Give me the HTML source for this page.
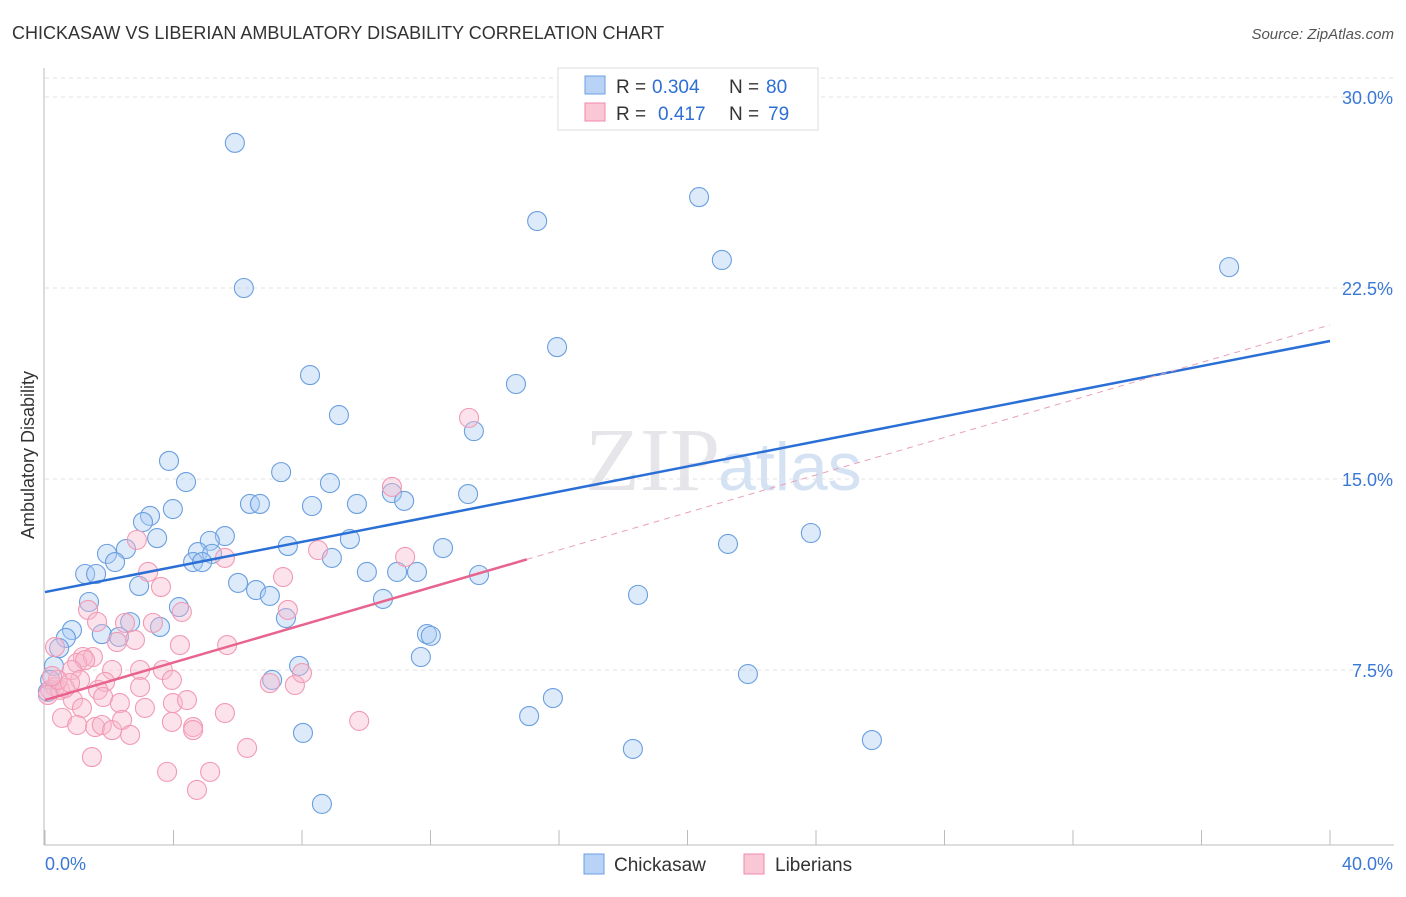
<!DOCTYPE html>
<html><head><meta charset="utf-8"><style>
body{margin:0;background:#fff;font-family:"Liberation Sans",sans-serif;}
</style></head><body>
<svg width="1406" height="892" viewBox="0 0 1406 892" xmlns="http://www.w3.org/2000/svg">
<text x="12" y="39" font-size="18" fill="#333">CHICKASAW VS LIBERIAN AMBULATORY DISABILITY CORRELATION CHART</text>
<text x="1394" y="39" font-size="15" fill="#555" font-style="italic" text-anchor="end">Source: ZipAtlas.com</text>
<text x="720" y="490" font-size="90" fill="#e6e6ea" text-anchor="end" font-family="Liberation Serif">ZIP</text>
<text x="718" y="490" font-size="68" fill="#d4e2f4">atlas</text>
<g id="grid"></g>
<g id="axes"></g>
<g id="pts"></g>
<g id="lines"></g>
<text transform="translate(34,455) rotate(-90)" font-size="18" fill="#333" text-anchor="middle">Ambulatory Disability</text>
<g>
<rect x="558" y="68" width="260" height="62" fill="#fff" stroke="#ddd"/>
<rect x="585" y="76" width="20" height="18" fill="#b8d3f5" stroke="#6a9fe0"/>
<rect x="585" y="103" width="20" height="18" fill="#fac7d6" stroke="#f08aa8"/>
<text x="616" y="93" font-size="19" fill="#333">R =</text>
<text x="652" y="93" font-size="19" fill="#2e6fd6">0.304</text>
<text x="729" y="93" font-size="19" fill="#333">N =</text>
<text x="766" y="93" font-size="19" fill="#2e6fd6">80</text>
<text x="616" y="120" font-size="19" fill="#333">R =</text>
<text x="658" y="120" font-size="19" fill="#2e6fd6">0.417</text>
<text x="729" y="120" font-size="19" fill="#333">N =</text>
<text x="768" y="120" font-size="19" fill="#2e6fd6">79</text>
</g>
<g>
<rect x="584" y="854" width="20" height="20" fill="#b8d3f5" stroke="#6a9fe0"/>
<text x="614" y="871" font-size="19" fill="#333">Chickasaw</text>
<rect x="744" y="854" width="20" height="20" fill="#fac7d6" stroke="#f08aa8"/>
<text x="775" y="871" font-size="19" fill="#333">Liberians</text>
</g>
</svg>
<script>
const yTicks=[7.5,15,22.5,30];
const yTickLabels=["7.5%","15.0%","22.5%","30.0%"];
const xTicks=[0,4,8,12,16,20,24,28,32,36,40];
const blueX=[5.91,16.87,20.36,15.32,21.07,36.86,6.19,15.94,8.25,14.66,9.15,13.35,3.86,7.35,4.39,8.87,10.8,13.17,6.38,6.69,9.71,11.18,8.31,3.98,3.27,3.05,3.49,5.6,5.13,9.49,7.56,12.39,2.52,1.93,4.76,5.2,2.18,4.61,4.89,8.93,1.25,1.59,10.02,10.96,11.58,13.51,2.93,6.01,6.57,7.0,18.46,10.52,1.37,4.17,7.5,2.65,3.58,21.26,23.84,0.84,0.65,1.77,2.3,11.89,12.01,0.44,11.7,0.28,7.91,7.07,21.88,15.81,15.07,0.16,0.09,8.03,18.3,25.74,8.62];
const blueY=[28.2,30.35,26.07,25.13,23.6,23.32,22.5,20.18,19.08,18.73,17.51,16.88,15.71,15.27,14.88,14.84,14.45,14.41,14.02,14.02,14.02,14.14,13.94,13.82,13.55,13.31,12.68,12.76,12.57,12.64,12.37,12.29,12.25,12.06,12.13,12.06,11.74,11.74,11.74,11.9,11.27,11.27,11.35,11.35,11.35,11.23,10.8,10.92,10.64,10.41,10.45,10.29,10.17,9.97,9.54,9.38,9.19,12.45,12.88,9.07,8.76,8.91,8.8,8.91,8.84,8.36,8.01,7.66,7.66,7.11,7.34,6.4,5.69,7.11,6.64,5.03,4.4,4.75,2.24];
const pinkX=[2.86,3.21,3.61,1.34,1.62,2.49,3.36,4.26,2.80,2.24,4.20,5.67,0.31,7.41,7.56,8.50,5.60,1.18,1.49,1.00,1.25,0.84,2.09,1.87,1.09,2.96,3.67,1.65,1.81,2.96,3.95,0.87,2.33,3.11,3.98,4.42,5.60,1.15,0.53,1.00,1.56,1.77,2.09,2.40,2.65,3.95,4.61,4.61,1.46,3.80,5.14,4.73,6.29,7.00,7.78,8.00,0.31,0.16,0.47,0.62,0.09,0.40,0.78,0.22,13.20,10.80,11.21,9.78];
const pinkY=[12.61,11.35,10.76,9.86,9.39,9.35,9.35,9.78,8.68,8.60,8.48,8.48,8.40,11.15,9.86,12.21,11.90,8.01,8.01,7.78,7.89,7.50,7.50,7.03,7.11,7.50,7.50,6.72,6.44,6.83,7.11,6.32,6.20,6.01,6.20,6.32,5.81,6.01,5.62,5.34,5.26,5.34,5.14,5.54,4.95,5.46,5.26,5.14,4.08,3.50,3.50,2.79,4.44,6.99,6.91,7.38,6.83,6.72,6.72,6.79,6.52,7.11,6.99,7.26,17.40,14.69,11.94,5.50];
const blueLine=[10.56,20.42];
const pinkLine=[6.32,21.05];
const pinkSolidEnd=15.0;
const NS="http://www.w3.org/2000/svg";
const sx=v=>45+v/40*1285, sy=v=>861-v/7.5*191;
function mk(t,a,p){const e=document.createElementNS(NS,t);for(const k in a)e.setAttribute(k,a[k]);p.appendChild(e);return e;}
const grid=document.getElementById('grid'),axes=document.getElementById('axes'),pts=document.getElementById('pts'),lines=document.getElementById('lines');
yTicks.forEach((v,i)=>{
 const l=mk('line',{x1:45,x2:1394,y1:sy(v),y2:sy(v),stroke:'#e2e2e2','stroke-dasharray':'4,4'},grid);
 
 
 const t=mk('text',{x:1393,y:sy(v)+7,'font-size':18,fill:'#3a78d6','text-anchor':'end'},axes);
 t.textContent=yTickLabels[i];
 
 
});
mk('line',{x1:45,x2:1394,y1:78,y2:78,stroke:'#e2e2e2','stroke-dasharray':'4,4'},grid);
mk('line',{x1:44,x2:44,y1:68,y2:845,stroke:'#bbb'},axes);
mk('line',{x1:44,x2:1394,y1:845,y2:845,stroke:'#bbb'},axes);
xTicks.forEach(v=>{const l=mk('line',{x1:sx(v),x2:sx(v),y1:830,y2:845,stroke:'#bbb'},axes);
 
 });
const x0=mk('text',{x:45,y:870,'font-size':18,fill:'#3a78d6'},axes);x0.textContent='0.0%';


const x1=mk('text',{x:1393,y:870,'font-size':18,fill:'#3a78d6','text-anchor':'end'},axes);x1.textContent='40.0%';


blueX.forEach((x,i)=>{const c=mk('circle',{cx:sx(x),cy:sy(blueY[i]),r:9.5,fill:'rgba(170,202,242,0.4)',stroke:'#6a9fe0','stroke-width':1.1},pts);
 
 });
pinkX.forEach((x,i)=>{const c=mk('circle',{cx:sx(x),cy:sy(pinkY[i]),r:9.5,fill:'rgba(248,186,204,0.4)',stroke:'#f29ab4','stroke-width':1.1},pts);
 
 });
const bl=mk('line',{x1:sx(0),y1:sy(blueLine[0]),x2:sx(40),y2:sy(blueLine[1]),stroke:'#2a6fd6','stroke-width':2.5},lines);


const pe=pinkLine[0]+(pinkLine[1]-pinkLine[0])*pinkSolidEnd/40;
const pl=mk('line',{x1:sx(0),y1:sy(pinkLine[0]),x2:sx(pinkSolidEnd),y2:sy(pe),stroke:'#e8648e','stroke-width':2.5},lines);


const pd=mk('line',{x1:sx(pinkSolidEnd),y1:sy(pe),x2:sx(40),y2:sy(pinkLine[1]),stroke:'#e8a0b8','stroke-width':1,'stroke-dasharray':'6,5'},lines);


</script>
</body></html>
